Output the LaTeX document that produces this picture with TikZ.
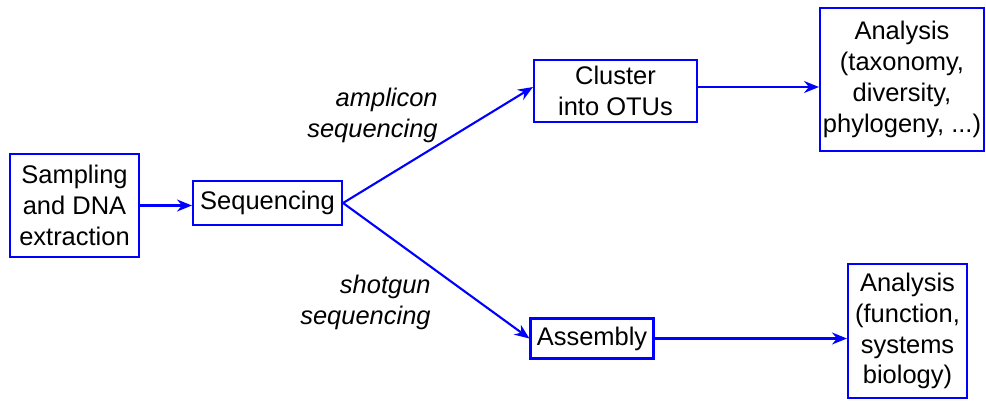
\documentclass[tikz,border=0pt]{standalone}
\usepackage{fontspec}
\setmainfont{Liberation Sans}
\usetikzlibrary{arrows.meta}

\begin{document}
\begin{tikzpicture}[
  x=0.02cm, y=-0.02cm,
  box/.style={draw=blue, line width=1.2pt, align=center, inner sep=1pt, font=\fontsize{14.5}{17.6}\selectfont},
  label/.style={align=right, anchor=east, inner sep=0pt, font=\fontsize{14.5}{17.6}\selectfont\itshape},
  arrow/.style={-{Stealth[length=3mm, width=2.4mm, inset=1mm]}, draw=blue, line width=1.2pt}
]
  \useasboundingbox (0,0) rectangle (986,400);
  \node[box, minimum width=2.58cm, minimum height=2.06cm] (sample) at (74.5,205.5) {Sampling\\and DNA\\extraction};
  \node[box, minimum width=2.98cm, minimum height=0.88cm] (seq) at (267.5,203) {Sequencing};
  \node[box, minimum width=3.26cm, minimum height=1.24cm] (otu) at (615.5,91) {Cluster\\into OTUs};
  \node[box, minimum width=2.46cm, minimum height=0.8cm] (asm) at (592,338.5) {Assembly};
  \node[box, minimum width=3.28cm, minimum height=2.86cm] (taxa) at (902,79.5) {Analysis\\(taxonomy,\\diversity,\\phylogeny, ...)};
  \node[box, minimum width=2.38cm, minimum height=2.68cm] (func) at (907.5,331) {Analysis\\(function,\\systems\\biology)};
  \node[label] (amp) at (438,115.5) {amplicon\\sequencing};
  \node[label] (shot) at (431,302) {shotgun\\sequencing};
  \draw[arrow] (sample.east) -- (sample.east -| seq.west);
  \draw[arrow] (seq.east) -- ([yshift=0.08cm]otu.west);
  \draw[arrow] (seq.east) -- (asm.west);
  \draw[arrow] ([yshift=0.08cm]otu.east) -- ([yshift=0.08cm]otu.east -| taxa.west);
  \draw[arrow] (asm.east) -- (asm.east -| func.west);
\end{tikzpicture}
\end{document}
